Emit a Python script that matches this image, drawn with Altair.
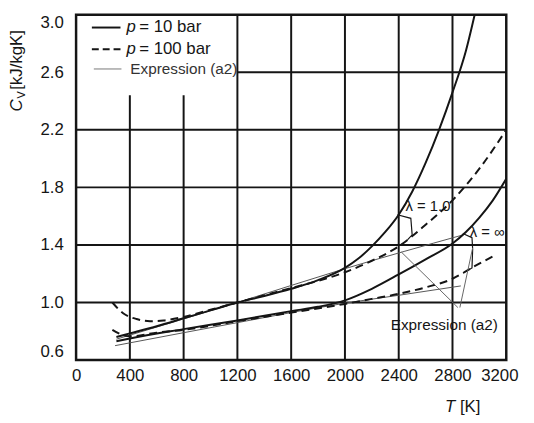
import altair as alt
import pandas as pd

# ---- data ----
T_p10_l1 = [300, 400, 600, 800, 1000, 1200, 1400, 1600, 1800, 2000, 2100, 2200, 2300, 2400, 2500, 2600, 2700, 2800, 2900, 2965]
C_p10_l1 = [0.76, 0.785, 0.835, 0.89, 0.945, 1.0, 1.045, 1.095, 1.155, 1.24, 1.305, 1.39, 1.49, 1.61, 1.77, 1.97, 2.2, 2.46, 2.75, 3.0]

T_p100_l1 = [270, 350, 450, 550, 650, 800, 1000, 1200, 1400, 1600, 1800, 2000, 2200, 2400, 2600, 2800, 3000, 3200]
C_p100_l1 = [1.0, 0.925, 0.885, 0.87, 0.875, 0.9, 0.95, 1.0, 1.05, 1.1, 1.15, 1.21, 1.29, 1.39, 1.54, 1.71, 1.93, 2.2]

T_p10_inf = [300, 400, 800, 1200, 1600, 1800, 2000, 2200, 2400, 2600, 2800, 2900, 3000, 3100, 3200]
C_p10_inf = [0.73, 0.75, 0.815, 0.875, 0.94, 0.97, 1.015, 1.095, 1.195, 1.30, 1.41, 1.49, 1.59, 1.71, 1.86]

T_p100_inf = [270, 330, 400, 600, 800, 1200, 1600, 2000, 2200, 2400, 2600, 2800, 2950, 3120]
C_p100_inf = [0.81, 0.78, 0.765, 0.79, 0.81, 0.87, 0.93, 0.99, 1.025, 1.06, 1.105, 1.165, 1.245, 1.33]

T_a2_up = [300, 1200, 2000, 2880]
C_a2_up = [0.745, 1.0, 1.235, 1.47]

T_a2_low = [290, 800, 1200, 1600, 2000, 2400, 2862]
C_a2_low = [0.70, 0.79, 0.86, 0.93, 0.995, 1.05, 1.115]

# annotation leader lines
T_br1 = [2390, 2490, 2500, 2465]
C_br1 = [1.61, 1.585, 1.47, 1.435]
T_br2 = [2877, 2945, 2950, 2945, 2880]
C_br2 = [1.48, 1.45, 1.37, 1.24, 1.205]
T_ptr1 = [2840, 2420]
C_ptr1 = [0.965, 1.35]
T_ptr2 = [2855, 2950]
C_ptr2 = [0.965, 1.38]

# grid
grid_v_full = [1200, 1600, 2000, 2400, 2800]
grid_v_part = [400, 800]
grid_v_part_top = 2.44
grid_h_full = [1.0, 1.4, 1.8, 2.2]
grid_h_part = [2.6]
grid_h_part_left = 1200

x_ticks = [0, 400, 800, 1200, 1600, 2000, 2400, 2800, 3200]
y_ticks = [0.6, 1.0, 1.4, 1.8, 2.2, 2.6, 3.0]

W, H = 436, 350
FONT = "Liberation Sans"
INK = "#151515"

xs = alt.Scale(domain=[0, 3200], nice=False, zero=False)
ys = alt.Scale(domain=[0.6, 3.0], nice=False, zero=False)


def line_df(name, T, C):
    return pd.DataFrame({"series": name, "T": T, "C": C, "i": range(len(T))})


# --- grid segments ---
segs = []
for t in grid_v_full:
    segs.append({"x": t, "x2": t, "y": 0.6, "y2": 3.0})
for t in grid_v_part:
    segs.append({"x": t, "x2": t, "y": 0.6, "y2": grid_v_part_top})
for c in grid_h_full:
    segs.append({"x": 0, "x2": 3200, "y": c, "y2": c})
for c in grid_h_part:
    segs.append({"x": grid_h_part_left, "x2": 3200, "y": c, "y2": c})
grid_df = pd.DataFrame(segs)

grid = alt.Chart(grid_df).mark_rule(color=INK, strokeWidth=2).encode(
    x=alt.X("x:Q", scale=xs,
            axis=alt.Axis(values=x_ticks, format="d", title=None, grid=False, ticks=False, domain=False,
                          labelFontSize=17, labelFont=FONT, labelColor=INK, labelPadding=8,
                          labelFlush=False,
                          labelOffset={"condition": {"test": "datum.value == 3200", "value": -7}, "value": 0})),
    x2="x2:Q",
    y=alt.Y("y:Q", scale=ys,
            axis=alt.Axis(values=y_ticks, format=".1f", title=None, grid=False, ticks=False,
                          domain=False, labelFontSize=17, labelFont=FONT, labelColor=INK,
                          labelPadding=13, labelFlush=True)),
    y2="y2:Q",
)

def curve(df, width, color, dash=None):
    kw = dict(color=color, strokeWidth=width, clip=True, interpolate="monotone")
    if dash:
        kw["strokeDash"] = dash
    return alt.Chart(df).mark_line(**kw).encode(
        x=alt.X("T:Q", scale=xs), y=alt.Y("C:Q", scale=ys), detail="series:N", order="i:Q")

solid_df = pd.concat([line_df("p10_l1", T_p10_l1, C_p10_l1), line_df("p10_inf", T_p10_inf, C_p10_inf)])
dash_df = pd.concat([line_df("p100_l1", T_p100_l1, C_p100_l1), line_df("p100_inf", T_p100_inf, C_p100_inf)])
thin_df = pd.concat([line_df("a2_up", T_a2_up, C_a2_up), line_df("a2_low", T_a2_low, C_a2_low)])

def lead(df, color, width):
    return alt.Chart(df).mark_line(color=color, strokeWidth=width, clip=True).encode(
        x=alt.X("T:Q", scale=xs), y=alt.Y("C:Q", scale=ys), detail="series:N", order="i:Q")

brk_df = pd.concat([line_df("b1", T_br1, C_br1), line_df("b2", T_br2, C_br2)])
ptr_df = pd.concat([line_df("p1", T_ptr1, C_ptr1), line_df("p2", T_ptr2, C_ptr2)])

# annotation texts in data coords
ann_df = pd.DataFrame({
    "T": [2451, 2928, 2341],
    "C": [1.67, 1.49, 0.84],
    "label": ["λ = 1.0", "λ = ∞", "Expression (a2)"],
    "size": [15, 15, 15.5],
})
ann = alt.Chart(ann_df).mark_text(font=FONT, color=INK, align="left", baseline="middle").encode(
    x=alt.X("T:Q", scale=xs), y=alt.Y("C:Q", scale=ys), text="label:N",
    size=alt.Size("size:Q", scale=None, legend=None))

# legend (drawn)
def leg_line(y, dash=None, color=INK, width=2, x1=16, x2=45):
    kw = dict(color=color, strokeWidth=width)
    if dash:
        kw["strokeDash"] = dash
    return alt.Chart(pd.DataFrame({"a": [0]})).mark_rule(**kw).encode(
        x=alt.value(x1), x2=alt.value(x2), y=alt.value(y))

def txt(s, x, y, size=17, italic=False, color=INK, angle=None, align="left", baseline="middle"):
    kw = dict(text=s, font=FONT, fontSize=size, color=color, align=align, baseline=baseline)
    if italic:
        kw["fontStyle"] = "italic"
    if angle is not None:
        kw["angle"] = angle
    return alt.Chart(pd.DataFrame({"a": [0]})).mark_text(**kw).encode(
        x=alt.value(x), y=alt.value(y))

legend = [
    leg_line(13), txt("p", 51, 13, italic=True), txt("= 10 bar", 64, 13),
    leg_line(35, dash=[7, 4]), txt("p", 51, 35, italic=True), txt("= 100 bar", 64, 35),
    leg_line(55, color="#777", width=1, x1=18, x2=46), txt("Expression (a2)", 55, 55, size=15.5, color="#333"),
]

titles = [
    txt("T", 374, 398, italic=True),
    txt("[K]", 389, 398),
    txt("C", -60, 98, italic=True, angle=270),
    txt("V", -55, 85, size=11, angle=270),
    txt("[kJ/kgK]", -60, 76, angle=270),
]

chart = alt.layer(
    grid,
    curve(thin_df, 1, "#555"),
    curve(solid_df, 2, INK),
    curve(dash_df, 2, INK, dash=[8, 5]),
    lead(brk_df, INK, 1.2),
    lead(ptr_df, "#666", 1),
    ann,
    *legend,
    *titles,
).properties(
    width=W, height=H,
    autosize=alt.AutoSizeParams(type="none"),
    padding={"left": 69, "top": 4, "right": 20, "bottom": 60},
).configure_view(stroke=INK, strokeWidth=2.5)

chart.save("out.html", embed_options={"renderer": "svg", "actions": False})
